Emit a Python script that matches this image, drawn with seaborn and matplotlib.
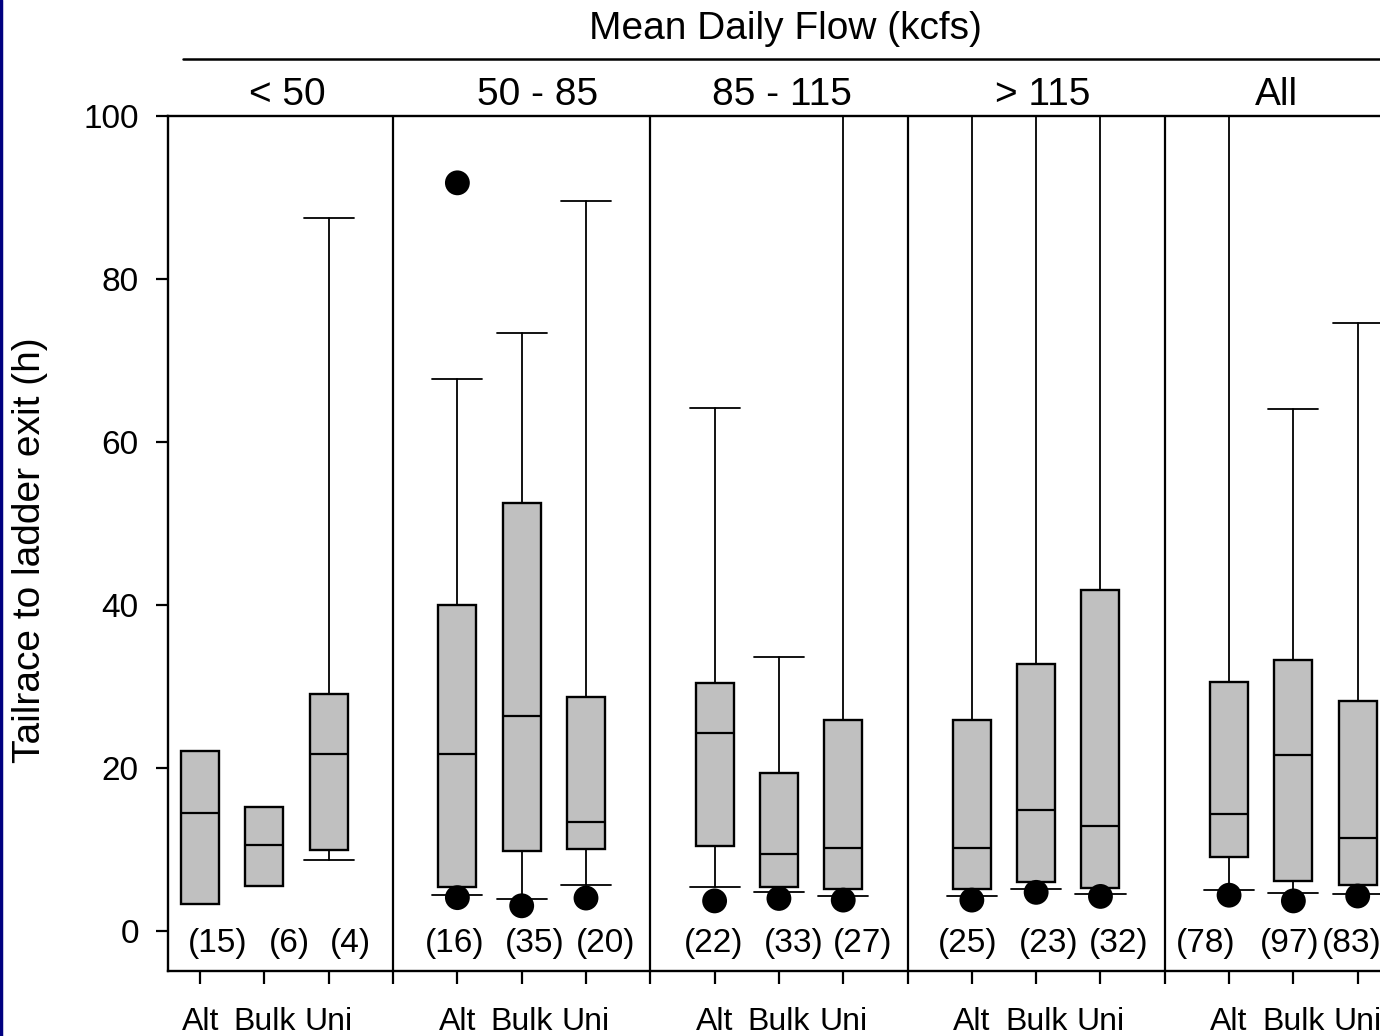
import seaborn as sns
import pandas as pd
import matplotlib.pyplot as plt
from matplotlib.lines import Line2D

# Data: one box per flow class and ladder (order: group by group, Alt / Bulk / Uni)
flow_groups = ['< 50', '50 - 85', '85 - 115', '> 115', 'All']
ladders = ['Alt', 'Bulk', 'Uni']

box_q1 = [3.3, 5.5, 9.9, 5.4, 9.8, 10.1, 10.4, 5.4, 5.1, 5.1, 6.05, 5.3, 9.1, 6.2, 5.7]
box_med = [14.5, 10.6, 21.7, 21.7, 26.4, 13.4, 24.3, 9.4, 10.2, 10.2, 14.8, 12.9, 14.4, 21.55, 11.45]
box_q3 = [22.1, 15.2, 29.1, 40.0, 52.5, 28.7, 30.4, 19.4, 25.9, 25.9, 32.8, 41.8, 30.55, 33.3, 28.25]
whisk_lo = [3.3, 5.5, 8.7, 4.45, 3.9, 5.7, 5.4, 4.8, 4.3, 4.3, 5.15, 4.5, 5.0, 4.65, 4.5]
whisk_hi = [22.1, 15.2, 87.5, 67.7, 73.4, 89.6, 64.2, 33.6, 100, 100, 100, 100, 100, 64.0, 74.6]
n_fish = [15, 6, 4, 16, 35, 20, 22, 33, 27, 25, 23, 32, 78, 97, 83]

# Outliers (filled dots)
out_group = [1, 1, 1, 1, 2, 2, 2, 3, 3, 3, 4, 4, 4]
out_ladder = [0, 0, 1, 2, 0, 1, 2, 0, 1, 2, 0, 1, 2]
out_value = [91.8, 4.1, 3.1, 4.05, 3.7, 4.0, 3.8, 3.8, 4.75, 4.25, 4.4, 3.7, 4.3]

sns.set_theme(style="ticks")
plt.rcParams['font.family'] = ['Liberation Sans', 'DejaVu Sans']

fig = plt.figure(figsize=(13.8, 10.36), dpi=100)
ax = fig.add_axes([168 / 1380, 65 / 1036, (1422 - 168) / 1380, 855 / 1036])

positions = [4 * g + c for g in range(len(flow_groups)) for c in range(len(ladders))]

stats = []
for i in range(len(box_q1)):
    stats.append(dict(q1=box_q1[i], med=box_med[i], q3=box_q3[i],
                      whislo=whisk_lo[i], whishi=whisk_hi[i], fliers=[]))
capw = [0.78 if (whisk_hi[i] > box_q3[i] or whisk_lo[i] < box_q1[i]) else 0.0
        for i in range(len(box_q1))]

ax.bxp(stats, positions=positions, widths=0.59, capwidths=capw,
       patch_artist=True, manage_ticks=False, showfliers=False,
       boxprops=dict(facecolor='#c0c0c0', edgecolor='black', linewidth=1.7),
       medianprops=dict(color='black', linewidth=1.6),
       whiskerprops=dict(color='black', linewidth=1.3),
       capprops=dict(color='black', linewidth=1.3))

out_df = pd.DataFrame({'x': [4 * g + c for g, c in zip(out_group, out_ladder)],
                       'y': out_value})
sns.scatterplot(data=out_df, x='x', y='y', ax=ax, color='black', s=320,
                edgecolor='none', zorder=5, legend=False)

# group dividers
for g in range(len(flow_groups) - 1):
    ax.axvline(4 * g + 3, color='black', linewidth=1.6)

# sample sizes
n_offset = [[0.27, 0.39, 0.34], [-0.04, 0.2, 0.3], [-0.02, 0.23, 0.3],
            [-0.06, 0.2, 0.28], [-0.37, -0.05, -0.1]]
for i, p in enumerate(positions):
    ax.text(p + n_offset[i // 3][i % 3], -1.5, f'({n_fish[i]})', ha='center', va='center',
            fontsize=24, color='black')

ax.set_xlim(-0.5, 19.0)
ax.set_ylim(-4.9, 100)
divider_pos = [4 * g + 3 for g in range(len(flow_groups) - 1)]
ax.set_xticks(positions + divider_pos)
ax.set_xticklabels(ladders * len(flow_groups) + [''] * len(divider_pos), fontsize=23)
ax.set_yticks([0, 20, 40, 60, 80, 100])
ax.set_yticklabels(['0', '20', '40', '60', '80', '100'], fontsize=24)
ax.tick_params(axis='x', direction='out', length=9, width=1.6, pad=17, colors='black')
ax.tick_params(axis='y', direction='out', length=9, width=1.6, pad=12, colors='black')
ax.set_xlabel('')
ax.set_ylabel('Tailrace to ladder exit (h)', fontsize=28, color='black')
ax.yaxis.set_label_coords(-0.096, 0.492)

for side in ['left', 'bottom', 'top', 'right']:
    ax.spines[side].set_visible(True)
    ax.spines[side].set_color('black')
    ax.spines[side].set_linewidth(1.7)

# group headers
group_label_x = [1.35, 5.24, 9.04, 13.1, 16.74]
trans = ax.get_xaxis_transform()
for lbl, gx in zip(flow_groups, group_label_x):
    ax.text(gx, 1.024, lbl, transform=trans, ha='center', va='center',
            fontsize=28, color='black', clip_on=False)

fig.text(785 / 1380, 1 - 29 / 1036, 'Mean Daily Flow (kcfs)', ha='center', va='center',
         fontsize=28, color='black')
fig.add_artist(Line2D([183 / 1380, 1.0], [1 - 59 / 1036, 1 - 59 / 1036],
                      transform=fig.transFigure, color='black', linewidth=1.8))
fig.add_artist(Line2D([0.001, 0.001], [0, 1], transform=fig.transFigure,
                      color='#000080', linewidth=2.5))

fig.savefig('out.png', dpi=100)
